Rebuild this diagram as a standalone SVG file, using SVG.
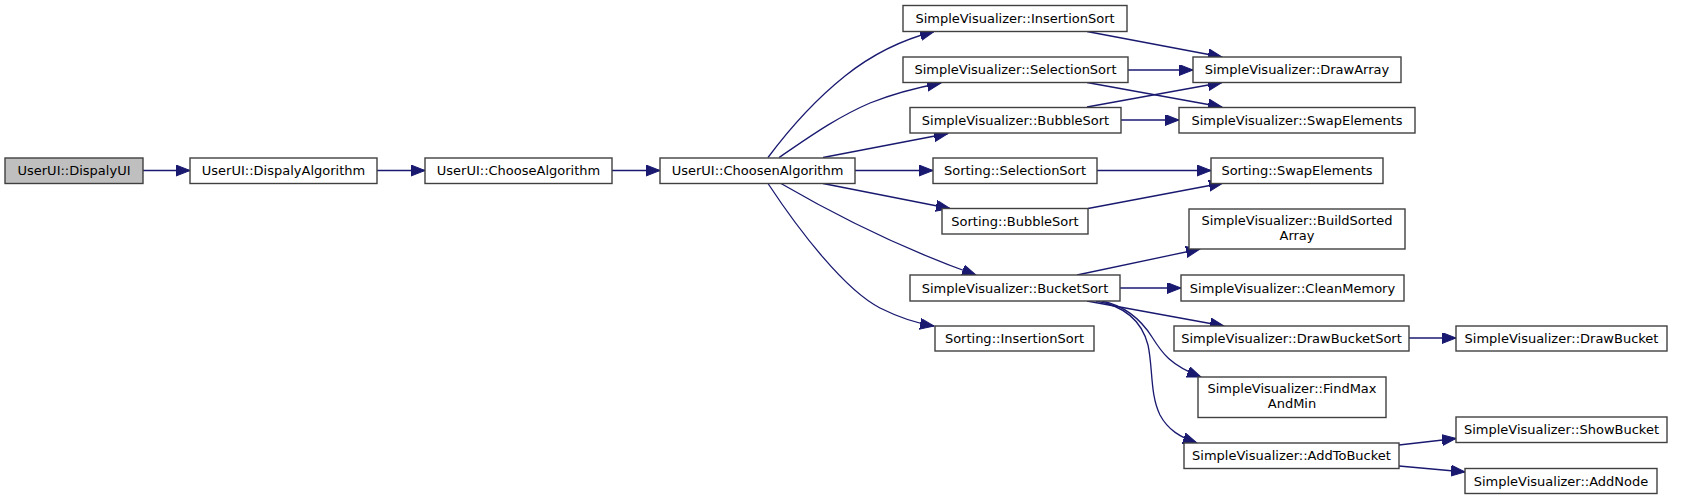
<svg xmlns="http://www.w3.org/2000/svg" width="1691" height="500" viewBox="0 0 1691 500">
<style>
.n rect{fill:#ffffff;stroke:#404040;stroke-width:1.4}
.n.g rect{fill:#bfbfbf}
.n text{font-family:"DejaVu Sans",sans-serif;font-size:13px;fill:#000;text-anchor:middle}
.e path{fill:none;stroke:#191970;stroke-width:1.3;marker-end:url(#ah)}
</style>
<defs>
<marker id="ah" markerUnits="userSpaceOnUse" markerWidth="16" markerHeight="12" refX="14" refY="5.5" orient="auto">
<path d="M0,0 L14,5.5 L0,11 z" fill="#191970" stroke="#191970" stroke-width="1"/>
</marker>
</defs>
<rect width="1691" height="500" fill="#ffffff"/>
<g id="edges" class="e">
<path d="M143,170.5 L190,170.5"/>
<path d="M377,170.5 L425,170.5"/>
<path d="M612,170.5 L660,170.5"/>
<path d="M768,157.5 C790,128 815,100 845,76 C870,56 897,41 934,31.5"/>
<path d="M779,157.5 C805,140 835,118 870,103 C890,95 915,88 941,83"/>
<path d="M823,157.5 L948,133.5"/>
<path d="M855,170.5 L933,170.5"/>
<path d="M823,183.5 L950,208.5"/>
<path d="M781,183.5 C830,212 900,248 976,275"/>
<path d="M768,183.5 C800,232 845,290 880,308 C900,318 915,323 934,326"/>
<path d="M1087,31.5 L1222,57"/>
<path d="M1128,70 L1193,70"/>
<path d="M1087,82.5 L1222,107"/>
<path d="M1087,107 L1222,82.5"/>
<path d="M1121,120 L1179,120"/>
<path d="M1097,170.5 L1211,170.5"/>
<path d="M1088,208.5 L1223,183"/>
<path d="M1077,275 L1200,249"/>
<path d="M1120,288 L1181,288"/>
<path d="M1087,301 L1224,326"/>
<path d="M1102,301 C1125,306 1140,318 1152,337 C1162,353 1170,365 1201,377"/>
<path d="M1096,301 C1125,306 1142,322 1148,345 C1153,368 1150,395 1160,415 C1168,430 1180,437 1197,443"/>
<path d="M1409,338 L1456,338"/>
<path d="M1399,445 L1456,438.5"/>
<path d="M1399,466 L1465,472"/>
</g>
<g id="n_DispalyUI" class="n g"><rect x="5" y="158" width="138" height="25.5"/><text x="74" y="175">UserUI::DispalyUI</text></g>
<g id="n_DispalyAlgorithm" class="n"><rect x="190" y="158" width="187" height="25.5"/><text x="283.5" y="175">UserUI::DispalyAlgorithm</text></g>
<g id="n_ChooseAlgorithm" class="n"><rect x="425" y="158" width="187" height="25.5"/><text x="518.5" y="175">UserUI::ChooseAlgorithm</text></g>
<g id="n_ChoosenAlgorithm" class="n"><rect x="660" y="158" width="195" height="25.5"/><text x="757.5" y="175">UserUI::ChoosenAlgorithm</text></g>
<g id="n_SV_InsertionSort" class="n"><rect x="903" y="5.5" width="224" height="26"/><text x="1015" y="23">SimpleVisualizer::InsertionSort</text></g>
<g id="n_SV_SelectionSort" class="n"><rect x="903" y="57" width="225" height="25.5"/><text x="1015.5" y="74">SimpleVisualizer::SelectionSort</text></g>
<g id="n_SV_BubbleSort" class="n"><rect x="910" y="107.5" width="211" height="25.5"/><text x="1015.5" y="124.5">SimpleVisualizer::BubbleSort</text></g>
<g id="n_SV_DrawArray" class="n"><rect x="1193" y="57" width="208" height="25.5"/><text x="1297" y="74">SimpleVisualizer::DrawArray</text></g>
<g id="n_SV_SwapElements" class="n"><rect x="1179" y="107.5" width="236" height="25.5"/><text x="1297" y="124.5">SimpleVisualizer::SwapElements</text></g>
<g id="n_S_SelectionSort" class="n"><rect x="933" y="158" width="164" height="25.5"/><text x="1015" y="175">Sorting::SelectionSort</text></g>
<g id="n_S_SwapElements" class="n"><rect x="1211" y="158" width="172" height="25.5"/><text x="1297" y="175">Sorting::SwapElements</text></g>
<g id="n_S_BubbleSort" class="n"><rect x="942" y="208.5" width="146" height="25.5"/><text x="1015" y="225.5">Sorting::BubbleSort</text></g>
<g id="n_SV_BuildSortedArray" class="n"><rect x="1189" y="209" width="216" height="40"/><text x="1297" y="224.5">SimpleVisualizer::BuildSorted</text><text x="1297" y="239.5">Array</text></g>
<g id="n_SV_BucketSort" class="n"><rect x="910" y="275" width="210" height="26"/><text x="1015" y="292.5">SimpleVisualizer::BucketSort</text></g>
<g id="n_SV_CleanMemory" class="n"><rect x="1181" y="275" width="223" height="26"/><text x="1292.5" y="292.5">SimpleVisualizer::CleanMemory</text></g>
<g id="n_S_InsertionSort" class="n"><rect x="935" y="326" width="159" height="25"/><text x="1014.5" y="343">Sorting::InsertionSort</text></g>
<g id="n_SV_DrawBucketSort" class="n"><rect x="1174" y="326" width="235" height="25"/><text x="1291.5" y="343">SimpleVisualizer::DrawBucketSort</text></g>
<g id="n_SV_DrawBucket" class="n"><rect x="1456" y="326" width="211" height="25"/><text x="1561.5" y="343">SimpleVisualizer::DrawBucket</text></g>
<g id="n_SV_FindMaxAndMin" class="n"><rect x="1198" y="377" width="188" height="40.5"/><text x="1292" y="392.5">SimpleVisualizer::FindMax</text><text x="1292" y="407.5">AndMin</text></g>
<g id="n_SV_ShowBucket" class="n"><rect x="1456" y="417" width="211" height="25.5"/><text x="1561.5" y="434">SimpleVisualizer::ShowBucket</text></g>
<g id="n_SV_AddToBucket" class="n"><rect x="1184" y="443" width="215" height="25.5"/><text x="1291.5" y="460">SimpleVisualizer::AddToBucket</text></g>
<g id="n_SV_AddNode" class="n"><rect x="1465" y="468.5" width="192" height="25"/><text x="1561" y="485.5">SimpleVisualizer::AddNode</text></g>
</svg>
